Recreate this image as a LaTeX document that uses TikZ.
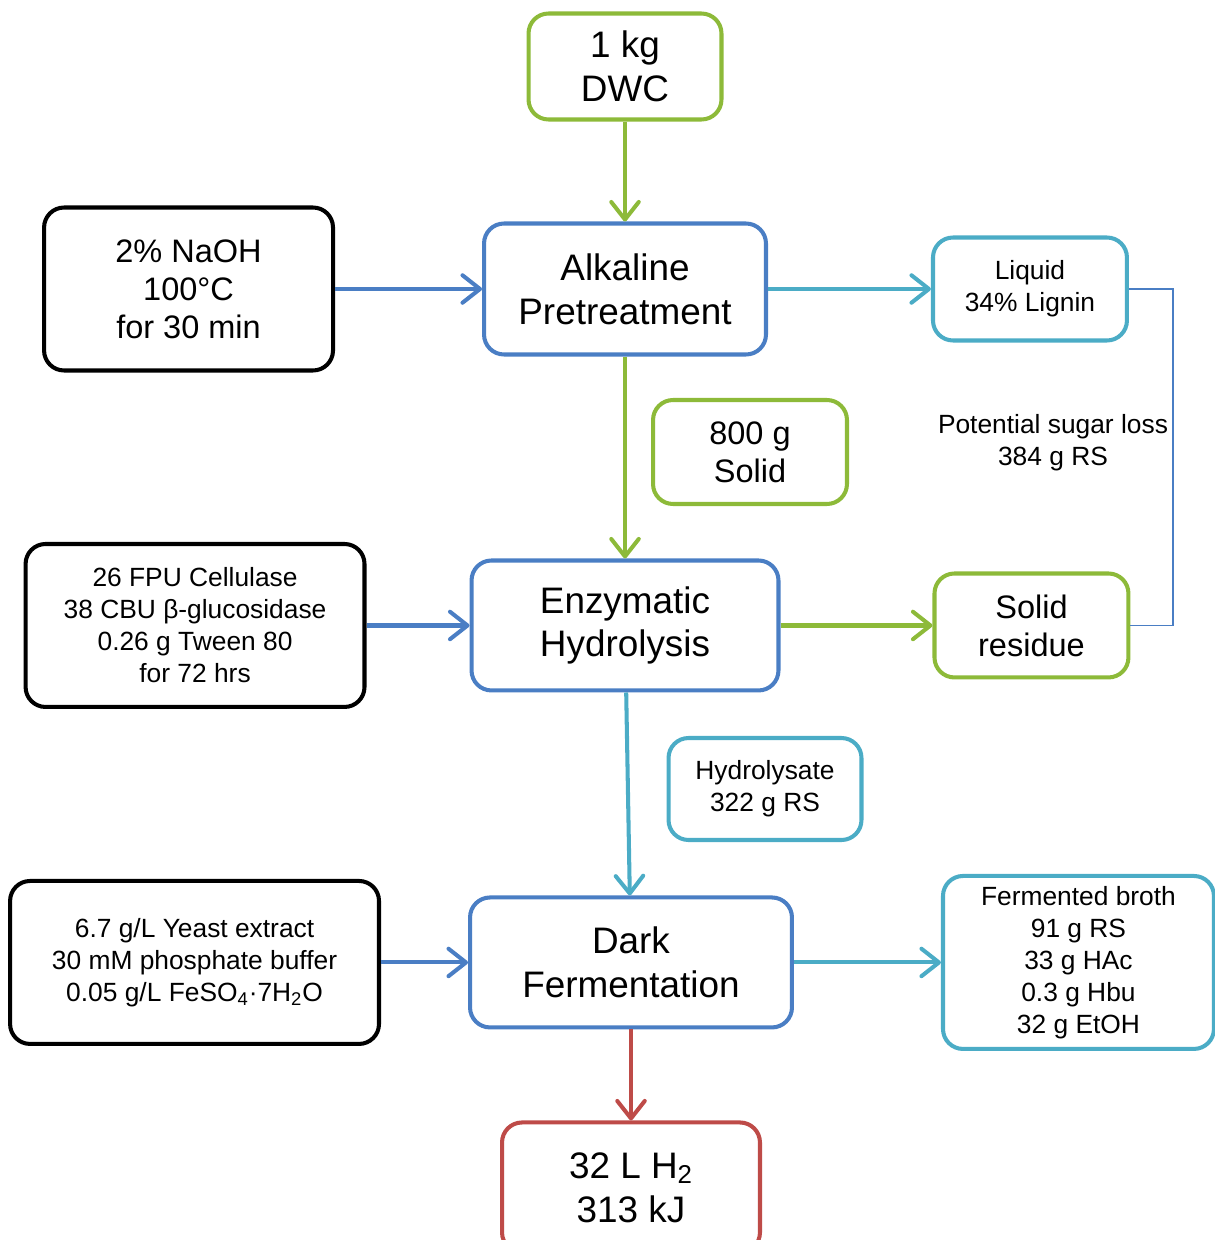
\documentclass[tikz,border=0pt]{standalone}
\usepackage{fontspec}
\setmainfont{Liberation Sans}
\usepackage{tikz}
\usetikzlibrary{arrows.meta,positioning}
\definecolor{feedgreen}{RGB}{141,186,57}
\definecolor{stepblue}{RGB}{74,126,196}
\definecolor{flowcyan}{RGB}{75,172,198}
\definecolor{gasred}{RGB}{190,75,72}

\begin{document}
\begin{tikzpicture}[>={Straight Barb[round,length=3.5mm,width=5.5mm]},x=0.02cm,y=-0.02cm,
                    line width=2.3pt,node distance=2cm]
  \tikzstyle{block}=[rectangle, rounded corners=4mm, draw, fill=white, align=center, inner sep=2pt]
  \tikzstyle{big}=[font=\fontsize{21}{25}\selectfont]
  \tikzstyle{mid}=[font=\fontsize{18.5}{21.6}\selectfont]
  \tikzstyle{small}=[font=\fontsize{15}{18.2}\selectfont]

  \useasboundingbox (0,0) rectangle (1214,1240);

  % main column
  \node[block,big,draw=stepblue,minimum width=5.64cm,minimum height=2.62cm] (Alkaline) at (625,289) {Alkaline\\Pretreatment};
  \node[block,big,draw=feedgreen,minimum width=3.86cm,minimum height=2.12cm] (DWC) [above=2.0cm of Alkaline] {1 kg\\DWC};
  \node[block,big,draw=stepblue,minimum width=6.14cm,minimum height=2.6cm] (Enzymatic) [below=4.04cm of Alkaline] {Enzymatic\\Hydrolysis};
  \node[block,big,draw=stepblue,minimum width=6.44cm,minimum height=2.6cm] (Dark) [below=4.06cm of Enzymatic, xshift=0.12cm] {Dark\\Fermentation};
  \node[block,big,draw=gasred,minimum width=5.16cm,minimum height=2.6cm] (Hydrogen) [below=1.82cm of Dark] {32 L H\textsubscript{2}\\313 kJ};

  % inputs
  \node[block,mid,minimum width=5.78cm,minimum height=3.26cm] (NaOH) [left=2.94cm of Alkaline] {2\% NaOH\\100°C\\for 30 min};
  \node[block,small,minimum width=6.78cm,minimum height=3.26cm] (Enzymes) [left=2.06cm of Enzymatic] {26 FPU Cellulase\\38 CBU β-glucosidase\\0.26 g Tween 80\\for 72 hrs};
  \node[block,small,minimum width=7.38cm,minimum height=3.26cm] (Medium) [left=1.74cm of Dark] {6.7 g/L Yeast extract\\30 mM phosphate buffer\\0.05 g/L FeSO\textsubscript{4}·7H\textsubscript{2}O};

  % outputs
  \node[block,small,draw=flowcyan,minimum width=3.88cm,minimum height=2.06cm] (Liquid) [right=3.26cm of Alkaline] {Liquid\\34\% Lignin};
  \node[block,mid,draw=feedgreen,minimum width=3.88cm,minimum height=2.08cm] (Residue) [right=3.04cm of Enzymatic] {Solid\\residue};
  \node[block,small,draw=flowcyan,minimum width=5.42cm,minimum height=3.46cm] (Broth) [right=2.94cm of Dark] {Fermented broth\\91 g RS\\33 g HAc\\0.3 g Hbu\\32 g EtOH};

  % stream labels
  \node[block,mid,draw=feedgreen,minimum width=3.88cm,minimum height=2.08cm] (Solid) at (750,452) {800 g\\Solid};
  \node[block,small,draw=flowcyan,minimum width=3.86cm,minimum height=2.04cm] (Hydrolysate) at (765,789) {Hydrolysate\\322 g RS};
  \node[small,align=center,inner sep=0pt] (Loss) at (1053,443) {Potential sugar loss\\384 g RS};

  \draw[->,feedgreen]
        (DWC) edge (Alkaline)
        (Alkaline) edge (Enzymatic)
        (Enzymatic) edge (Residue);
  \draw[->,stepblue]
        (NaOH) edge (Alkaline)
        (Enzymes) edge (Enzymatic)
        (Medium) edge (Dark);
  \draw[->,flowcyan]
        (Alkaline) edge (Liquid)
        (Enzymatic) edge (Dark)
        (Dark) edge (Broth);
  \draw[->,gasred] (Dark) -- (Hydrogen);

  \coordinate (Bend) at (1173,288);
  \draw[stepblue,line width=1.1pt] (Liquid.east) -- (Liquid.east -| Bend) |- (Residue.east);
\end{tikzpicture}
\end{document}
